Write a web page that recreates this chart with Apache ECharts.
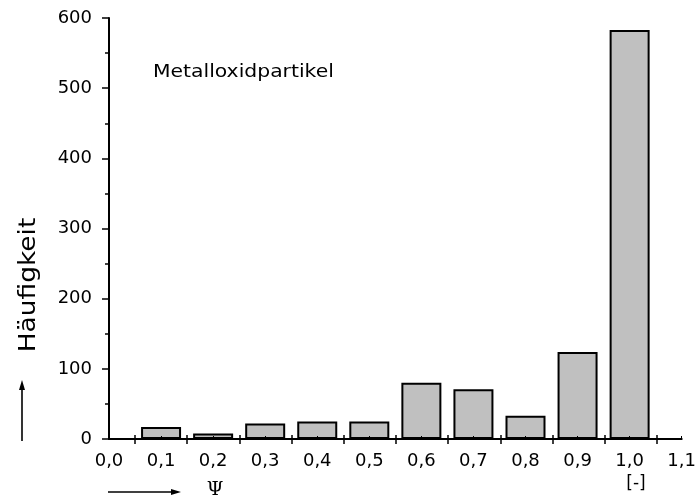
<!DOCTYPE html>
<html>
<head>
<meta charset="utf-8">
<script src="https://cdn.jsdelivr.net/npm/echarts@6/dist/echarts.min.js"></script>
<style>
  html, body { margin: 0; padding: 0; background: #fff; }
  #chart { width: 699px; height: 502px; }
</style>
</head>
<body>
<div id="chart"></div>
<script>
// Particle shape factor classes (bin centres) and their counts
const psiClasses = [0.1, 0.2, 0.3, 0.4, 0.5, 0.6, 0.7, 0.8, 0.9, 1.0];
const counts = [17, 8, 22, 25, 25, 80, 71, 33, 124, 583];
const yTicks = [0, 100, 200, 300, 400, 500, 600];
const xTickLabels = ['0,0', '0,1', '0,2', '0,3', '0,4', '0,5', '0,6', '0,7', '0,8', '0,9', '1,0', '1,1'];
const yTitle = 'Häufigkeit';
const xTitle = 'Ψ';
const xUnit = '[-]';
const seriesTitle = 'Metalloxidpartikel';

const FONT = 'DejaVu Sans';
const chart = echarts.init(document.getElementById('chart'), null, { renderer: 'canvas' });

const barData = psiClasses.map((x, i) => [x, counts[i]]);

chart.setOption({
  animation: false,
  backgroundColor: '#fff',
  grid: [
    { left: 109, right: 16, top: 18, bottom: 63 },
    // second grid carries the class-boundary ticks (0.05, 0.15, ...)
    { left: 135, right: 42, top: 18, bottom: 63 }
  ],
  xAxis: [
    {
      type: 'value', gridIndex: 0, min: 0, max: 1.1, interval: 0.1, z: 5,
      axisLine: { show: true, onZero: false, lineStyle: { color: '#000', width: 2 } },
      axisTick: { show: true, inside: true, length: 3, lineStyle: { color: '#000', width: 1 } },
      axisLabel: {
        margin: 13, color: '#000', fontFamily: FONT, fontSize: 18,
        formatter: (v) => xTickLabels[Math.round(v * 10)]
      },
      splitLine: { show: false }
    },
    {
      type: 'value', gridIndex: 1, min: 0.05, max: 1.05, interval: 0.1, offset: -4, z: 5,
      axisLine: { show: false },
      axisTick: { show: true, length: 9, lineStyle: { color: '#000', width: 1.5 } },
      axisLabel: { show: false },
      splitLine: { show: false }
    }
  ],
  yAxis: [
    {
      type: 'value', gridIndex: 0, min: yTicks[0], max: yTicks[yTicks.length - 1], interval: 100,
      axisLine: { show: true, lineStyle: { color: '#000', width: 2 } },
      axisTick: { show: true, length: 7, lineStyle: { color: '#000', width: 1.5 } },
      minorTick: { show: true, splitNumber: 2, length: 4, lineStyle: { color: '#000', width: 1.5 } },
      axisLabel: { margin: 17, color: '#000', fontFamily: FONT, fontSize: 18 },
      splitLine: { show: false }
    },
    {
      type: 'value', gridIndex: 1, min: 0, max: 600, show: false
    }
  ],
  series: [{
    type: 'bar',
    xAxisIndex: 0, yAxisIndex: 0,
    data: barData,
    barWidth: 40,
    itemStyle: { color: '#c0c0c0', borderColor: '#000', borderWidth: 2 }
  }],
  graphic: [
    {
      type: 'text', x: 153, y: 72, scaleX: 1.13,
      style: { text: seriesTitle, fontFamily: FONT, fontSize: 18, fill: '#000', align: 'left', verticalAlign: 'middle' }
    },
    {
      type: 'text', x: 29, y: 285, rotation: Math.PI / 2, scaleX: 1.15,
      style: { text: yTitle, fontFamily: FONT, fontSize: 23, fill: '#000', align: 'center', verticalAlign: 'middle' }
    },
    // upward arrow under the y title
    { type: 'line', shape: { x1: 22, y1: 441, x2: 22, y2: 388 }, style: { stroke: '#000', lineWidth: 1.6 } },
    { type: 'polygon', shape: { points: [[22, 380], [19, 390], [25, 390]] }, style: { fill: '#000' } },
    // rightward arrow before the x title
    { type: 'line', shape: { x1: 108, y1: 492, x2: 173, y2: 492 }, style: { stroke: '#000', lineWidth: 1.6 } },
    { type: 'polygon', shape: { points: [[181, 492], [171, 489], [171, 495]] }, style: { fill: '#000' } },
    {
      type: 'text', x: 215, y: 490,
      style: { text: xTitle, fontFamily: 'DejaVu Serif', fontSize: 19, fill: '#000', align: 'center', verticalAlign: 'middle' }
    },
    {
      type: 'text', x: 636, y: 484,
      style: { text: xUnit, fontFamily: FONT, fontSize: 17, fill: '#000', align: 'center', verticalAlign: 'middle' }
    }
  ]
});
</script>
</body>
</html>
